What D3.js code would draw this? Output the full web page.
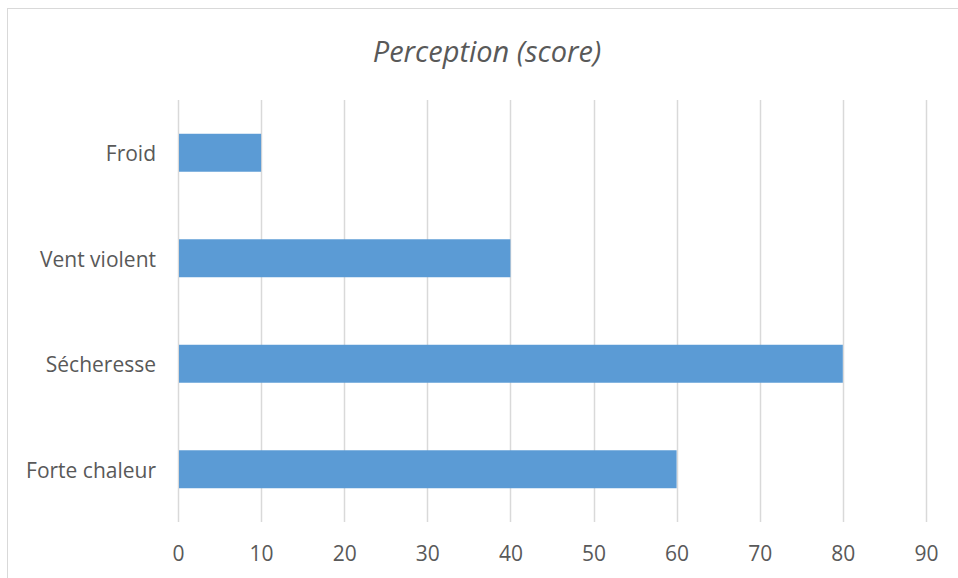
<!DOCTYPE html>
<html>
<head>
<meta charset="utf-8">
<title>Perception (score)</title>
<script src="https://d3js.org/d3.v7.min.js"></script>
<style>
  body { margin: 0; background: #fff; }
</style>
</head>
<body>
<div id="chart"></div>
<script>
// données
const categories = ["Froid", "Vent violent", "Sécheresse", "Forte chaleur"];
const scores = [10, 40, 80, 60];
const xTicks = [0, 10, 20, 30, 40, 50, 60, 70, 80, 90];

const W = 958, H = 578;
const margin = {top: 100, right: 32, bottom: 56, left: 178};
const w = W - margin.left - margin.right;
const h = H - margin.top - margin.bottom;
const font = "'Open Sans', sans-serif";
const grey = "#595959";

const svg = d3.select("#chart").append("svg")
    .attr("width", W)
    .attr("height", H);

// cadre du graphique
svg.append("rect")
    .attr("x", 7.5).attr("y", 8.5)
    .attr("width", W).attr("height", H)
    .attr("fill", "none")
    .attr("stroke", "#d9d9d9");

const g = svg.append("g")
    .attr("transform", "translate(" + margin.left + "," + margin.top + ")");

const x = d3.scaleLinear().domain([0, 90]).range([0, 90 * 8.31]);
const y = d3.scaleBand().domain(categories).range([0, h])
    .paddingInner(0.64).paddingOuter(0.32);

// quadrillage vertical
g.selectAll("line.grid")
    .data(xTicks)
    .enter().append("line")
    .attr("class", "grid")
    .attr("x1", d => Math.round(x(d)) + 0.5)
    .attr("x2", d => Math.round(x(d)) + 0.5)
    .attr("y1", 0).attr("y2", h)
    .attr("stroke", "#d9d9d9")
    .attr("stroke-width", 1.5);

// barres
g.selectAll("rect.bar")
    .data(categories)
    .enter().append("rect")
    .attr("class", "bar")
    .attr("x", x(0) + 1)
    .attr("y", d => y(d))
    .attr("width", (d, i) => x(scores[i]) - x(0) - 1)
    .attr("height", y.bandwidth())
    .attr("fill", "#5b9bd5");

// axe horizontal (étiquettes seules)
const xAxis = d3.axisBottom(x).tickValues(xTicks).tickSize(0).tickPadding(24);
g.append("g")
    .attr("transform", "translate(0," + h + ")")
    .call(xAxis)
    .call(s => s.select(".domain").remove())
    .call(s => s.selectAll("text")
        .attr("font-family", font)
        .attr("font-size", "21px")
        .attr("fill", grey));

// axe vertical
const yAxis = d3.axisLeft(y).tickSize(0).tickPadding(22);
g.append("g")
    .call(yAxis)
    .call(s => s.select(".domain").remove())
    .call(s => s.selectAll("text")
        .attr("font-family", font)
        .attr("font-size", "21px")
        .attr("fill", grey)
        .attr("dy", "0.4em"));

// titre
svg.append("text")
    .attr("x", 487).attr("y", 62)
    .attr("text-anchor", "middle")
    .attr("font-family", font)
    .attr("font-style", "italic")
    .attr("font-size", "29px")
    .attr("fill", grey)
    .text("Perception (score)");
</script>
</body>
</html>
